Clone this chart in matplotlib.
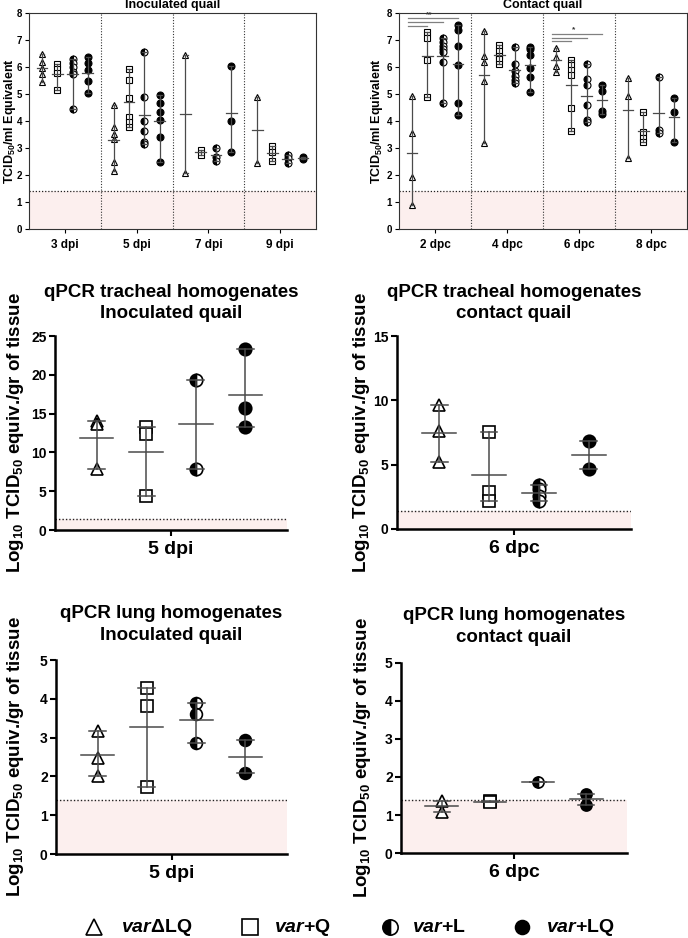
import matplotlib.pyplot as plt
import numpy as np

plt.rcParams['font.family'] = ['Liberation Sans', 'DejaVu Sans']
plt.rcParams['font.weight'] = 'bold'
plt.rcParams['mathtext.fontset'] = 'custom'
plt.rcParams['mathtext.rm'] = 'Liberation Sans:bold'
plt.rcParams['mathtext.it'] = 'Liberation Sans:italic:bold'
plt.rcParams['mathtext.bf'] = 'Liberation Sans:bold'

# series (same order in every panel)
series = ['varΔLQ', 'var+Q', 'var+L', 'var+LQ']
legend_labels = [r'$\mathit{var}$ΔLQ', r'$\mathit{var}$+Q', r'$\mathit{var}$+L', r'$\mathit{var}$+LQ']
lod = 1.4

# tracheal swabs, inoculated quail (log10 TCID50/ml equiv.)
inoc_days = ['3 dpi', '5 dpi', '7 dpi', '9 dpi']
inoc_dLQ = [[6.47, 6.2, 5.95, 5.73, 5.44], [4.59, 3.77, 3.52, 3.32, 2.48, 2.15], [6.44, 2.06], [4.88, 2.43]]
inoc_Q = [[6.11, 5.94, 5.77, 5.15], [5.91, 5.52, 4.84, 4.14, 3.97, 3.79], [2.93, 2.74], [3.07, 2.86, 2.53]]
inoc_L = [[6.28, 6.14, 5.99, 5.83, 5.73, 4.43], [6.54, 4.88, 4.01, 3.64, 3.23, 3.14], [2.99, 2.66, 2.53], [2.74, 2.62, 2.46]]
inoc_LQ = [[6.36, 6.14, 5.89, 5.47, 5.03], [4.96, 4.66, 4.34, 4.04, 3.42, 2.47], [6.04, 4.0, 2.84], [2.65, 2.6]]

# tracheal swabs, contact quail
cont_days = ['2 dpc', '4 dpc', '6 dpc', '8 dpc']
cont_dLQ = [[4.94, 3.54, 1.91, 0.89], [7.33, 6.42, 6.2, 5.48, 3.17], [6.72, 6.38, 6.04, 5.83], [5.6, 4.94, 2.64]]
cont_Q = [[7.31, 7.09, 6.26, 4.90], [6.8, 6.6, 6.42, 6.28, 6.1], [6.26, 6.07, 5.89, 5.70, 4.49, 3.63], [4.32, 3.58, 3.36, 3.23]]
cont_L = [[7.06, 6.91, 6.79, 6.67, 6.54, 6.2, 4.66], [6.75, 6.1, 5.85, 5.68, 5.52, 5.4], [6.12, 5.55, 5.35, 4.58, 4.05, 3.98], [5.64, 3.67, 3.54]]
cont_LQ = [[7.56, 7.37, 6.79, 6.07, 4.68, 4.22], [6.75, 6.65, 6.45, 5.95, 5.62, 5.06], [5.33, 5.11, 4.37, 4.25], [4.84, 4.34, 3.23]]

# significance bars: (group, from series, to series, height), star label
sig_2dpc = [(0, 0, 3, 7.80), (0, 0, 2, 7.66), (0, 0, 1, 7.52)]
sig_6dpc = [(2, 0, 3, 7.21), (2, 0, 2, 7.09), (2, 0, 1, 6.96)]
sig_stars = [(0, '**', 7.93), (2, '*', 7.37)]

# qPCR homogenates, one list per series
trach_inoc = [[14.1, 13.6, 7.9], [13.3, 12.4, 4.4], [19.3, 7.9], [23.3, 15.7, 13.3]]
trach_cont = [[9.6, 7.6, 5.2], [7.55, 2.85, 2.2], [3.4, 3.1, 2.6, 2.2], [6.85, 4.7]]
lung_inoc = [[3.18, 2.48, 2.02], [4.29, 3.81, 1.72], [3.9, 3.61, 2.87], [2.94, 2.08]]
lung_cont = [[1.37, 1.08], [1.36, 1.34], [1.87], [1.55, 1.27]]

W, H = 688, 938
offsets = [-0.32, -0.107, 0.107, 0.32]
styles = [
    dict(marker='^', mfc='white', mec='black'),
    dict(marker='s', mfc='white', mec='black'),
    dict(marker='o', mfc='black', markerfacecoloralt='white', fillstyle='left', mec='black'),
    dict(marker='o', mfc='black', mec='black'),
]
pink = '#fcefee'
lcol = '#4a4a4a'


def box(l, t, r, b):
    return [l / W, 1 - b / H, (r - l) / W, (b - t) / H]


def column(ax, x, vals, st, ms, mew, cap, half, lw):
    vals = np.array(vals)
    ax.plot(np.full(len(vals), x), vals, ls='none', ms=ms, mew=mew, zorder=3, **st)
    lo, hi = vals.min(), vals.max()
    ax.plot([x, x], [lo, hi], color=lcol, lw=lw, zorder=4)
    for v in (lo, hi):
        ax.plot([x - cap, x + cap], [v, v], color=lcol, lw=lw, zorder=4)
    m = vals.mean()
    ax.plot([x - half, x + half], [m, m], color=lcol, lw=lw, zorder=4)


fig = plt.figure(figsize=(W / 100, H / 100), dpi=100)


def swab_panel(rect, days, data, title, ylab_x, sigs=None):
    ax = fig.add_axes(box(*rect))
    ax.axhspan(0, lod, color=pink, zorder=0, lw=0)
    ax.axhline(lod, color='#222222', lw=0.9, ls=(0, (1, 1.5)), zorder=1)
    for d in [0.5, 1.5, 2.5]:
        ax.axvline(d, color='#333333', lw=0.8, ls=(0, (1, 1.5)), zorder=1)
    for g in range(len(days)):
        for s in range(4):
            column(ax, g + offsets[s], data[s][g], styles[s], 5, 0.8, 0.03, 0.075, 0.9)
    if sigs:
        for g, a, b, h in sigs:
            ax.plot([g + offsets[a] - 0.05, g + offsets[b]], [h, h], color='#808080', lw=0.9)
        for g, txt, h in sig_stars:
            ax.text(g - 0.08, h, txt, ha='center', va='center', fontsize=6, color='#333333')
    ax.set_xlim(-0.5, 3.5)
    ax.set_ylim(0, 8)
    ax.set_xticks(range(len(days)))
    ax.set_xticklabels(days, fontsize=8.5)
    ax.set_yticks(range(9))
    ax.tick_params(axis='y', labelsize=7, length=3, width=0.8, pad=2)
    ax.tick_params(axis='x', length=3, width=0.8, pad=4)
    for sp in ax.spines.values():
        sp.set_linewidth(0.8)
        sp.set_color('#333333')
    l, t, r, b = rect
    fig.text(((l + r) / 2) / W, 1 - 5 / H, title, ha='center', va='center', fontsize=9)
    fig.text(ylab_x / W, 1 - 121 / H, r'TCID$_{50}$/ml Equivalent', rotation=90,
             ha='center', va='center', fontsize=9)
    return ax


swab_panel((29, 13, 316, 229), inoc_days, [inoc_dLQ, inoc_Q, inoc_L, inoc_LQ], 'Inoculated quail', 10)
swab_panel((399, 13, 687, 229), cont_days, [cont_dLQ, cont_Q, cont_L, cont_LQ], 'Contact quail', 377,
           sigs=sig_2dpc + sig_6dpc)


def tissue_panel(rect, data, ymax, ystep, xlab, title1, title2, title_y, ylab_x, ms):
    ax = fig.add_axes(box(*rect))
    ax.axhspan(0, lod, color=pink, zorder=0, lw=0)
    ax.axhline(lod, color='#222222', lw=1.0, ls=(0, (1, 1.5)), zorder=1)
    for s in range(4):
        column(ax, offsets[s], data[s], styles[s], ms, 1.2, 0.036, 0.072, 1.1)
    ax.set_xlim(-0.5, 0.5)
    ax.set_ylim(0, ymax)
    ax.set_xticks([0])
    ax.set_xticklabels([xlab], fontsize=14)
    ax.set_yticks(np.arange(0, ymax + 0.1, ystep))
    ax.tick_params(axis='y', labelsize=10, length=4, width=1.5, pad=2)
    ax.tick_params(axis='x', length=4, width=1.5, pad=4)
    for sp in ['top', 'right']:
        ax.spines[sp].set_visible(False)
    for sp in ['left', 'bottom']:
        ax.spines[sp].set_linewidth(1.8)
    l, t, r, b = rect
    cx = ((l + r) / 2) / W
    fig.text(cx, 1 - title_y / H, title1, ha='center', va='center', fontsize=13.5)
    fig.text(cx, 1 - (title_y + 21) / H, title2, ha='center', va='center', fontsize=13.5)
    fig.text(ylab_x / W, 1 - ((t + b) / 2) / H, r'Log$_{10}$ TCID$_{50}$ equiv./gr of tissue',
             rotation=90, ha='center', va='center', fontsize=13.5)
    return ax


tissue_panel((55, 336, 287, 530), trach_inoc, 25, 5, '5 dpi', 'qPCR tracheal homogenates',
             'Inoculated quail', 292, 16, 9)
tissue_panel((397, 336, 631, 529), trach_cont, 15, 5, '6 dpc', 'qPCR tracheal homogenates',
             'contact quail', 292, 361, 9)
tissue_panel((56, 660, 287, 854), lung_inoc, 5, 1, '5 dpi', 'qPCR lung homogenates',
             'Inoculated quail', 614, 16, 8.5)
tissue_panel((401, 663, 627, 853), lung_cont, 5, 1, '6 dpc', 'qPCR lung homogenates',
             'contact quail', 616, 362, 8)

# legend row along the bottom
lg = fig.add_axes([0, 0, 1, 1], zorder=-1)
lg.set_xlim(0, W)
lg.set_ylim(H, 0)
lg.axis('off')
mark_x = [94, 250, 390, 522]
text_x = [121, 274, 412, 546]
leg_st = [
    dict(marker='^', mfc='white', mec='black', ms=11),
    dict(marker='s', mfc='white', mec='black', ms=12),
    dict(marker='o', mfc='black', markerfacecoloralt='white', fillstyle='left', mec='black', ms=11),
    dict(marker='o', mfc='black', mec='black', ms=10),
]
for i in range(4):
    lg.plot([mark_x[i]], [927], ls='none', mew=1.2, **leg_st[i])
    lg.text(text_x[i], 927, legend_labels[i], ha='left', va='center', fontsize=14)

fig.savefig('out.png', dpi=100)
